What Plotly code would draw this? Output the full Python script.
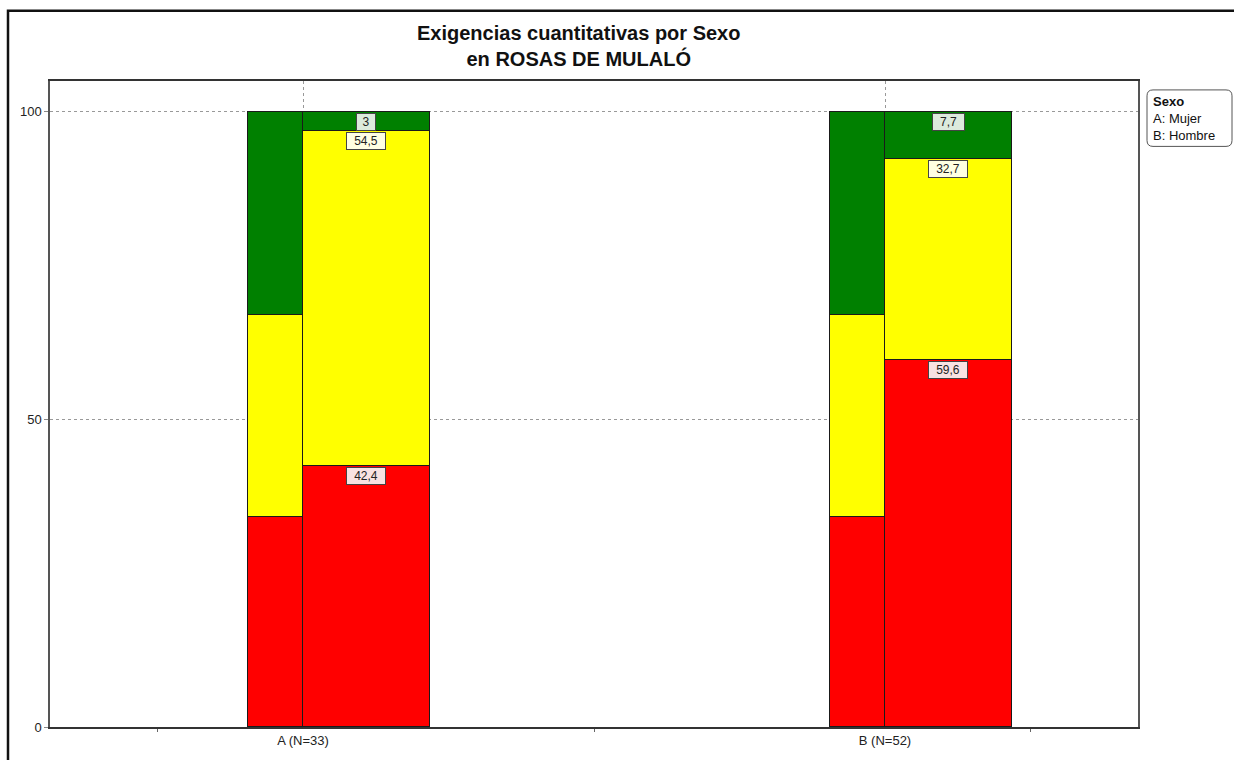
import plotly.graph_objects as go

# categories and values (percent)
cats = ["A (N=33)", "B (N=52)"]
levels = ["Rojo", "Amarillo", "Verde"]
colors = ["#FF0000", "#FFFF00", "#008000"]
label_bg = ["#F8E2E2", "#FFFFE2", "#DCEADC"]
rojo = [42.4, 59.6]
amarillo = [54.5, 32.7]
verde = [3, 7.7]
# reference bar (population distribution)
ref_vals = [34.2, 32.7, 33.1]

series = [rojo, amarillo, verde]
pos = [0, 1]
ref_w = 0.0945
dat_w = 0.218

fig = go.Figure()

# reference bars, left of each category tick
for i, lev in enumerate(levels):
    fig.add_trace(go.Bar(
        x=[p - ref_w / 2 for p in pos], y=[ref_vals[i]] * len(pos), width=ref_w,
        marker=dict(color=colors[i], line=dict(color="#1a1a1a", width=1)),
        showlegend=False, hoverinfo="skip"))

# data bars, right of each category tick
for i, lev in enumerate(levels):
    fig.add_trace(go.Bar(
        x=[p + dat_w / 2 for p in pos], y=series[i], width=dat_w,
        marker=dict(color=colors[i], line=dict(color="#1a1a1a", width=1)),
        name=lev, showlegend=False))

# value labels just under the top of each segment
for j, p in enumerate(pos):
    top = 0
    for i in range(len(levels)):
        top += series[i][j]
        txt = f"{series[i][j]:g}".replace(".", ",")
        fig.add_annotation(
            x=p + dat_w / 2, y=top, text=txt, showarrow=False, yshift=-10,
            width=int(len(txt) * 6.5 + 10), height=14,
            font=dict(family="Arial", size=12, color="#222"),
            bgcolor=label_bg[i], bordercolor="#444", borderwidth=1, borderpad=1)

fig.update_layout(
    barmode="stack",
    width=1234, height=760,
    margin=dict(l=50, r=96, t=81, b=27),
    paper_bgcolor="white", plot_bgcolor="white",
    font=dict(family="Arial", size=13, color="#222"),
    bargap=0,
)

fig.update_xaxes(
    range=[-0.4347, 1.4347], tickvals=pos, ticktext=cats,
    showline=True, linecolor="#333", linewidth=2, mirror=True,
    showgrid=True, gridcolor="#999", griddash="dot", gridwidth=1,
    ticks="", zeroline=False,
    minor=dict(tickvals=[-0.25, 0.5, 1.25], ticks="outside", ticklen=3, tickcolor="#666"),
    tickfont=dict(size=13))

fig.update_yaxes(
    range=[0, 105], tickvals=[0, 50, 100],
    showline=True, linecolor="#555", linewidth=1.5, mirror=True,
    showgrid=True, gridcolor="#999", griddash="dot", gridwidth=1,
    ticks="outside", ticklen=4, tickcolor="#888", zeroline=False,
    tickfont=dict(size=13))


# helpers: pixel -> paper coords (plot area 50..1138 x 81..733)
def px_x(v):
    return (v - 50) / 1088


def px_y(v):
    return (733 - v) / 652


# title
fig.add_annotation(xref="paper", yref="paper", x=px_x(578), y=px_y(19),
                   xanchor="center", yanchor="top", showarrow=False,
                   text="<b>Exigencias cuantitativas por Sexo<br>en ROSAS DE MULALÓ</b>",
                   font=dict(family="Arial", size=20, color="#111"))

# outer frame
fig.add_shape(type="rect", xref="paper", yref="paper",
              x0=px_x(8), x1=1.2, y0=-0.2, y1=px_y(10),
              line=dict(color="#111", width=2.5), layer="above")

# legend box (rounded)
x0, x1, y0, y1, r = 1147, 1232, 90, 147, 6
path = (f"M {px_x(x0 + r)} {px_y(y0)} L {px_x(x1 - r)} {px_y(y0)} "
        f"Q {px_x(x1)} {px_y(y0)} {px_x(x1)} {px_y(y0 + r)} "
        f"L {px_x(x1)} {px_y(y1 - r)} Q {px_x(x1)} {px_y(y1)} {px_x(x1 - r)} {px_y(y1)} "
        f"L {px_x(x0 + r)} {px_y(y1)} Q {px_x(x0)} {px_y(y1)} {px_x(x0)} {px_y(y1 - r)} "
        f"L {px_x(x0)} {px_y(y0 + r)} Q {px_x(x0)} {px_y(y0)} {px_x(x0 + r)} {px_y(y0)} Z")
fig.add_shape(type="path", xref="paper", yref="paper", path=path,
              line=dict(color="#555", width=1), fillcolor="white")
fig.add_annotation(xref="paper", yref="paper", x=px_x(1151), y=px_y(92),
                   xanchor="left", yanchor="top", showarrow=False, align="left",
                   text="<b>Sexo</b><br>A: Mujer<br>B: Hombre",
                   font=dict(family="Arial", size=13, color="#111"))

# drop the default 8px body margin so the figure fills the window exactly
fig.write_html("out.html", config={"displayModeBar": False},
               post_script="document.body.style.margin='0';")
